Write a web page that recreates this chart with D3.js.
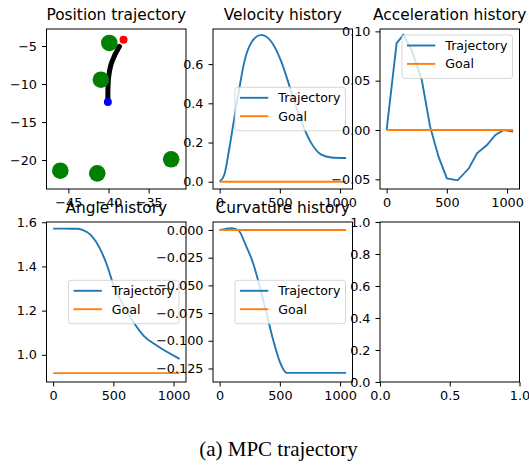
<!DOCTYPE html>
<html>
<head>
<meta charset="utf-8">
<script src="https://cdn.jsdelivr.net/npm/d3@7.9.0/dist/d3.min.js"></script>
<style>
  body { margin: 0; background: #fff; }
  svg { display: block; font-family: "DejaVu Sans", sans-serif; }
</style>
</head>
<body>
<svg id="chart" width="529" height="466"></svg>
<script>
// ---- data ----
// position plot (x, y in world units)
const obstacleX = [-39.9, -40.95, -46.0, -41.4, -32.2];
const obstacleY = [-4.6, -9.43, -21.4, -21.75, -19.9];
const startXY = [-40.08, -12.37];
const goalXY = [-38.13, -4.17];
const pathX = [-40.08, -40.08, -40.0, -39.7, -39.29, -38.63];
const pathY = [-12.1, -11.62, -9.21, -7.46, -6.36, -5.04];

// time histories
const velT = [0, 39, 81, 122, 164, 206, 261, 344, 428, 511, 594, 678, 761, 844, 928, 1050];
const velV = [0, 0.036, 0.172, 0.325, 0.478, 0.614, 0.707, 0.749, 0.715, 0.614, 0.461, 0.308, 0.197, 0.138, 0.124, 0.121];

const accT = [0, 83, 139, 208, 292, 361, 431, 500, 589, 683, 750, 833, 903, 972, 1050];
const accV = [0, 0.088, 0.0963, 0.081, 0.0507, 0.0034, -0.027, -0.049, -0.051, -0.0388, -0.0236, -0.0152, -0.005, 0, -0.0017];

const angT = [0, 100, 200, 243, 311, 394, 449, 504, 587, 669, 752, 863, 1050];
const angV = [1.5708, 1.5708, 1.5705, 1.565, 1.543, 1.475, 1.403, 1.312, 1.222, 1.146, 1.086, 1.041, 0.982];

const curT = [0, 50, 97, 153, 222, 278, 333, 389, 444, 500, 540, 556, 1050];
const curV = [0, 0.001, 0.0015, 0, -0.015, -0.030, -0.051, -0.075, -0.099, -0.119, -0.1275, -0.129, -0.129];

const goalT = [0, 1050];
const velGoal = 0, accGoal = 0, angGoal = 0.917, curGoal = 0;

// tick values
const posXTicks = [-45, -40, -35];
const posYTicks = [-5, -10, -15, -20];
const timeTicks = [0, 500, 1000];
const velTicks = [0, 0.2, 0.4, 0.6];
const accTicks = [-0.05, 0, 0.05, 0.1];
const angTicks = [1.0, 1.2, 1.4, 1.6];
const curTicks = [0, -0.025, -0.05, -0.075, -0.1, -0.125];
const emptyXTicks = [0, 0.5, 1];
const emptyYTicks = [0, 0.2, 0.4, 0.6, 0.8, 1];

const legendLabels = ['Trajectory', 'Goal'];

// ---- layout ----
const svg = d3.select('#chart');
const colLeft = [46.5, 213, 380];
const rowTop = [29, 222];
const panelW = 139.5, panelH = 160;
const C0 = '#1f77b4', C1 = '#ff7f0e';
const tickFont = 12.8;

function makePanel(col, row, opts) {
    const g = svg.append('g').attr('transform', `translate(${colLeft[col]},${rowTop[row]})`);
    const x = d3.scaleLinear().domain(opts.xLim).range([0, panelW]);
    const y = d3.scaleLinear().domain(opts.yLim).range([panelH, 0]);

    g.append('rect').attr('width', panelW).attr('height', panelH).attr('fill', '#fff');
    const plot = g.append('g');
    const over = g.append('g');

    // frame
    over.append('rect')
        .attr('width', panelW).attr('height', panelH)
        .attr('fill', 'none').attr('stroke', '#000').attr('stroke-width', 1);

    const xAxis = over.append('g')
        .attr('transform', `translate(0,${panelH})`)
        .call(d3.axisBottom(x).tickValues(opts.xTicks).tickFormat(opts.xFmt)
            .tickSizeInner(4.5).tickSizeOuter(0).tickPadding(4.7));
    const yAxis = over.append('g')
        .call(d3.axisLeft(y).tickValues(opts.yTicks).tickFormat(opts.yFmt)
            .tickSizeInner(4.5).tickSizeOuter(0).tickPadding(5));
    [xAxis, yAxis].forEach(a => {
        a.select('.domain').remove();
        a.attr('font-family', null).attr('font-size', null);
        a.selectAll('line').attr('stroke', '#000').attr('stroke-width', 1);
        a.selectAll('text').attr('fill', '#000').style('font-size', tickFont + 'px');
    });

    if (opts.title) {
        g.append('text')
            .attr('x', panelW / 2).attr('y', -8.7)
            .attr('text-anchor', 'middle')
            .style('font-size', '15.4px')
            .text(opts.title);
    }
    return { g, plot, over, x, y };
}

function drawSeries(p, ts, vs, color, curve) {
    const line = d3.line()
        .x((d, i) => p.x(ts[i]))
        .y(d => p.y(d))
        .curve(curve || d3.curveLinear);
    p.plot.append('path')
        .attr('d', line(vs))
        .attr('fill', 'none')
        .attr('stroke', color)
        .attr('stroke-width', 1.9);
}

function drawGoal(p, value) {
    drawSeries(p, goalT, goalT.map(() => value), C1);
}

function drawLegend(p, loc) {
    const lg = p.over.append('g');
    const box = lg.append('rect');
    const texts = legendLabels.map((lab, i) => lg.append('text')
        .attr('x', 43.3).attr('y', 15 + i * 18.4)
        .style('font-size', '12.6px')
        .attr('fill', '#000')
        .text(lab));
    const tw = d3.max(texts, t => t.node().getComputedTextLength());
    const w = 43.3 + tw + 5, h = 43.4;
    box.attr('width', w).attr('height', h).attr('rx', 2.5)
        .attr('fill', '#fff').attr('fill-opacity', 0.8)
        .attr('stroke', '#cccccc').attr('stroke-opacity', 0.8).attr('stroke-width', 1);
    [C0, C1].forEach((c, i) => {
        lg.append('line')
            .attr('x1', 5).attr('x2', 33.3)
            .attr('y1', 10.5 + i * 18.4).attr('y2', 10.5 + i * 18.4)
            .attr('stroke', c).attr('stroke-width', 1.9);
    });
    const left = panelW - 7 - w;
    const top = loc === 'upper right' ? 6 : panelH / 2 - h / 2;
    lg.attr('transform', `translate(${left},${top})`);
}

const fmtInt = d3.format('d');
const fmt1 = d3.format('.1f');
const fmt2 = d3.format('.2f');
const fmt3 = d3.format('.3f');
const timeLim = [-55, 1103];

// 1. Position trajectory
const pos = makePanel(0, 0, {
    title: 'Position trajectory',
    xLim: [-47.72, -30.35], yLim: [-23.81, -2.76],
    xTicks: posXTicks, yTicks: posYTicks, xFmt: fmtInt, yFmt: fmtInt
});
pos.plot.append('path')
    .attr('d', d3.line().x((d, i) => pos.x(pathX[i])).y(d => pos.y(d)).curve(d3.curveCatmullRom)(pathY))
    .attr('fill', 'none').attr('stroke', '#000').attr('stroke-width', 5).attr('stroke-linecap', 'round');
pos.plot.selectAll('.obstacle')
    .data(obstacleX)
    .join('circle')
    .attr('cx', d => pos.x(d))
    .attr('cy', (d, i) => pos.y(obstacleY[i]))
    .attr('r', 8.3)
    .attr('fill', '#008000');
pos.plot.append('circle').attr('cx', pos.x(goalXY[0])).attr('cy', pos.y(goalXY[1])).attr('r', 4).attr('fill', '#ff0000');
pos.plot.append('circle').attr('cx', pos.x(startXY[0])).attr('cy', pos.y(startXY[1])).attr('r', 4).attr('fill', '#0000ff');

// 2. Velocity history
const vel = makePanel(1, 0, {
    title: 'Velocity history', xLim: timeLim, yLim: [-0.037, 0.779],
    xTicks: timeTicks, yTicks: velTicks, xFmt: fmtInt, yFmt: fmt1
});
drawSeries(vel, velT, velV, C0, d3.curveMonotoneX);
drawGoal(vel, velGoal);
drawLegend(vel, 'center right');

// 3. Acceleration history
const acc = makePanel(2, 0, {
    title: 'Acceleration history', xLim: timeLim, yLim: [-0.0598, 0.1024],
    xTicks: timeTicks, yTicks: accTicks, xFmt: fmtInt, yFmt: fmt2
});
drawSeries(acc, accT, accV, C0);
drawGoal(acc, accGoal);
drawLegend(acc, 'upper right');

// 4. Angle history
const ang = makePanel(0, 1, {
    title: 'Angle history', xLim: timeLim, yLim: [0.877, 1.601],
    xTicks: timeTicks, yTicks: angTicks, xFmt: fmtInt, yFmt: fmt1
});
drawSeries(ang, angT, angV, C0, d3.curveMonotoneX);
drawGoal(ang, angGoal);
drawLegend(ang, 'center right');

// 5. Curvature history
const cur = makePanel(1, 1, {
    title: 'Curvature history', xLim: timeLim, yLim: [-0.1372, 0.0072],
    xTicks: timeTicks, yTicks: curTicks, xFmt: fmtInt, yFmt: fmt3
});
drawSeries(cur, curT, curV, C0, d3.curveMonotoneX);
drawGoal(cur, curGoal);
drawLegend(cur, 'center right');

// 6. Empty axes
makePanel(2, 1, {
    xLim: [0, 1], yLim: [0, 1],
    xTicks: emptyXTicks, yTicks: emptyYTicks, xFmt: fmt1, yFmt: fmt1
});

// caption
svg.append('text')
    .attr('x', 278.5).attr('y', 456)
    .attr('text-anchor', 'middle')
    .style('font-family', '"Liberation Serif", "Times New Roman", serif')
    .style('font-size', '21px')
    .text('(a) MPC trajectory');
</script>
</body>
</html>
